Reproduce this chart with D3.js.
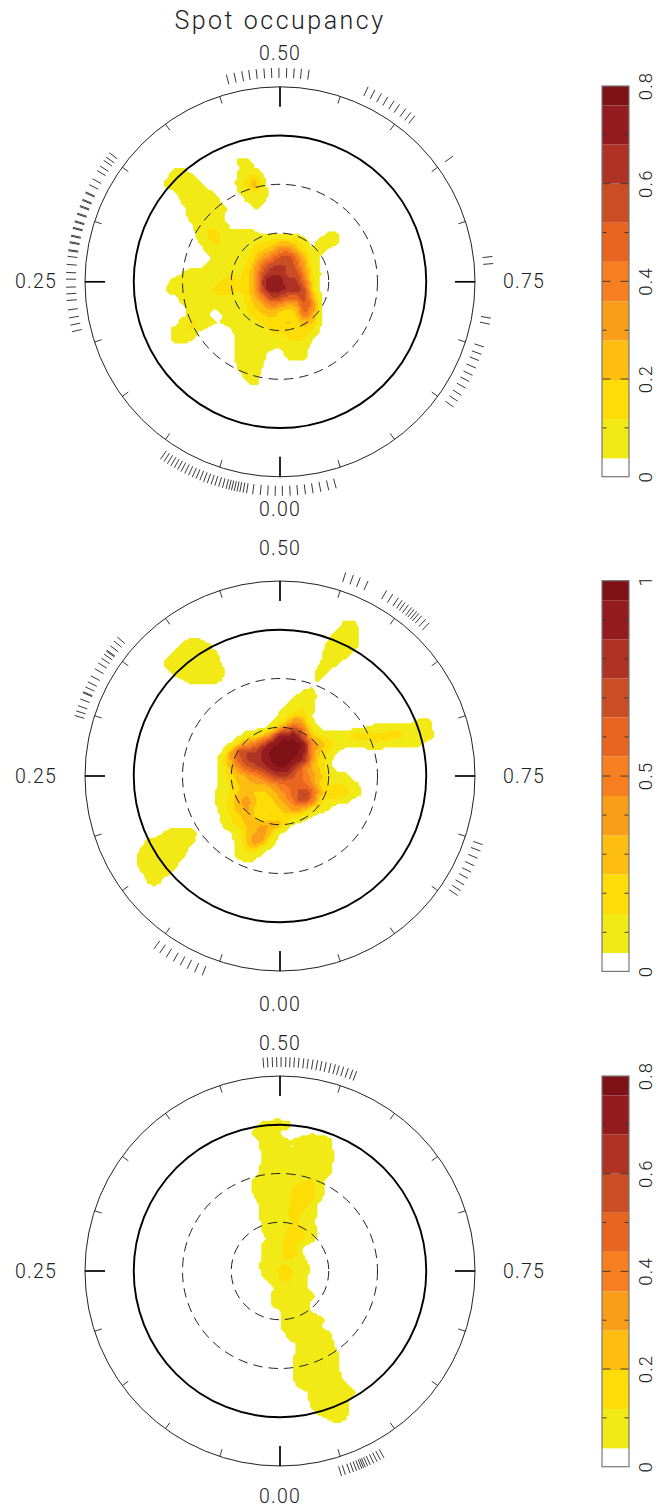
<!DOCTYPE html>
<html><head><meta charset="utf-8">
<script src="https://cdn.jsdelivr.net/npm/d3@7/dist/d3.min.js"></script>
<style>html,body{margin:0;padding:0;background:#fff}svg{display:block}
text{font-family:Roboto,"Open Sans",sans-serif;font-weight:300;fill:#222}</style></head>
<body><div id="chart"></div>
<script>
// ---- data ----
const chartTitle = "Spot occupancy";
const phaseLabels = ["0.00","0.25","0.50","0.75"];
const phaseMajor = [0,0.25,0.5,0.75];
const phaseMinor = [0.05,0.1,0.15,0.2,0.3,0.35,0.4,0.45,0.55,0.6,0.65,0.7,0.8,0.85,0.9,0.95];
const colatRings = [30,60,90,120];           // degrees
const bandColors = ["#F2EA17","#FDDD05","#FDBE10","#FA9E1A","#F77F20","#E9651F","#C94E24","#AE3325","#951C1E","#7E1216"];
const levels08 = [0.0375,0.118,0.198,0.279,0.359,0.44,0.52,0.6,0.68,0.76];
const levels10 = [0.047,0.147,0.248,0.348,0.449,0.55,0.65,0.75,0.85,0.95];
const edgeLevel = [0.026,0.033,0.026];
const barMax = [0.8,1,0.8];
const barLabels1 = [0,0.2,0.4,0.6,0.8], barLabels2 = [0,0.5,1], barLabels3 = [0,0.2,0.4,0.6,0.8];
const barTicks1 = [0.1,0.2,0.3,0.4,0.5,0.6,0.7], barTicks2 = [0.1,0.2,0.3,0.4,0.5,0.6,0.7,0.8,0.9], barTicks3 = [0.1,0.2,0.3,0.4,0.5,0.6,0.7];

// phases of the observations
const obsPhases1 = [0.353,0.349,0.346,0.341,0.337,0.33,0.325,0.319,0.3182,0.313,0.3122,0.308,0.3072,0.302,0.3012,0.296,0.2952,0.291,0.2902,0.285,0.2842,0.28,0.2792,0.274,0.2732,0.269,0.263,0.257,0.252,0.246,0.241,0.236,0.229,0.223,0.2175,0.2125,
 0.0943,0.0912,0.0882,0.0852,0.0823,0.0794,0.0765,0.0734,0.0703,0.0672,0.0642,0.0611,0.0581,0.0552,0.0522,0.0493,0.0463,0.0434,0.0406,0.0384,0.0364,0.0343,0.0322,0.0301,0.0276,0.025,0.0204,0.0147,0.0092,0.0036,0.9982,0.9924,0.9868,0.981,0.9753,0.9694,0.9634,0.9577,
 0.7992,0.805,0.81,0.816,0.822,0.8272,0.8328,0.839,0.8442,0.8495,0.7772,0.7817,0.7311,0.7364,0.65,
 0.5675,0.573,0.5786,0.584,0.5895,0.5944,0.6,0.6047,0.6086,
 0.4597,0.4655,0.4714,0.4766,0.4822,0.488,0.4936,0.4992,0.505,0.5106,0.516,0.5217];
const obsPhases2 = [0.5497,0.5557,0.5612,0.5675,
 0.583,0.5883,0.5933,0.5967,0.5994,0.6025,0.6056,0.6078,0.6103,0.6125,0.6153,0.6192,0.623,
 0.3625,0.3586,0.3542,0.35,0.3492,0.3464,0.3428,0.3386,0.3336,0.3275,0.3225,0.3183,0.3144,0.3136,0.3086,0.3033,0.2992,0.2956,
 0.802,0.807,0.8128,0.8189,0.8242,0.8294,0.835,0.84,0.8442,
 0.1003,0.095,0.0892,0.0831,0.0772,0.0714,0.0653,0.0592];
const obsPhases3 = [0.4873,0.4906,0.4942,0.4975,0.5008,0.5044,0.5075,0.5108,0.5142,0.5178,0.5211,0.5247,0.5281,0.5314,0.5347,0.5383,0.5417,0.5447,0.5481,0.5517,0.5553,0.5583,
 0.9536,0.9506,0.9469,0.9442,0.9417,0.9394,0.9375,0.9361,0.9347,0.9328,0.9306,0.9278,0.925,0.9222,0.9192];

// occupancy in percent on a 5-degree grid, segments: [row j, first column i, values...]
const occupancy1 = [
[15,-5,3,3],
[14,-13,2,3],[14,-5,3,8,3],
[13,-14,1,7,9,5],[13,-5,4,10,14,3],
[12,-14,4,8,9,9,6],[12,-5,6,15,22,5],
[11,-13,2,6,9,9,6,2],[11,-5,3,9,12,6,1],
[10,-12,4,8,10,9,6,1],[10,-4,4,8,4],
[9,-12,1,6,9,10,9,5],[9,-3,3],
[8,-11,5,9,9,7,3],
[7,-11,2,7,9,10,6,1],
[6,-10,6,12,14,9,5,6,6,4,1,2,2,3,2],[6,6,3,3],
[5,-10,3,9,13,10,8,9,10,9,12,14,18,18,14,7,1,6,10,5],
[4,-9,5,10,10,9,9,10,14,20,26,36,38,26,14,4,6,2],
[3,-9,1,6,9,9,9,11,20,32,42,52,56,42,24,9,2],
[2,-9,4,8,9,9,10,14,28,46,58,60,58,48,30,10,2],
[1,-12,3,7,8,8,9,10,11,11,16,32,56,66,66,58,56,36,14,3],
[0,-14,1,7,8,8,8,8,10,13,14,12,18,34,64,74,72,62,62,44,16,2],
[-1,-14,3,7,8,8,8,9,13,15,14,12,18,32,58,74,70,66,64,54,20,2],
[-2,-13,1,6,8,8,8,9,9,9,10,14,26,42,56,54,46,46,54,30,5],
[-3,-12,2,5,6,6,5,8,9,9,13,20,28,36,32,26,30,50,36,6],
[-4,-12,1,5,9,5,1,3,7,9,11,14,20,22,18,14,20,40,28,5],
[-5,-13,1,6,12,11,6,3,3,6,9,10,11,13,16,18,20,18,24,20,4],
[-6,-13,5,9,12,4,1,0,0,2,7,9,9,10,13,14,16,15,16,12,2],
[-7,-13,4,7,4,0,0,0,0,1,7,9,9,9,9,8,12,13,12,4],
[-8,-13,1,1],[-8,-5,6,9,9,8,5,3,8,9,6,1],
[-9,-5,6,9,8,4,0,1,5,8,5],
[-10,-5,5,9,8,3,0,0,1,1,1],
[-11,-5,3,8,6,1],
[-12,-4,4,5],
[-13,-4,1,2]];
const occupancy2 = [
[19,8,4,4],
[18,7,3,9,8,1],
[17,6,3,9,9,8,1],[17,-11,3,3],
[16,5,1,6,9,9,7,1],[16,-13,1,6,9,9,7,1],
[15,5,2,8,9,8,2],[15,-13,6,9,9,9,9,6],
[14,5,4,8,6,1],[14,-14,5,9,9,9,9,9,8,2],
[13,4,1,6,4.5],[13,-14,2,7,9,9,9,9,9,4],
[12,4,3,4],[12,-13,2,4.5,9,9,9,9,3],
[11,3,1,3],
[10,2,3,7,6],
[9,1,3,8,12,6],
[8,0,3,9,16,16,5],
[7,-1,2,10,22,36,24,5],[7,17,3,3.5,2],
[6,-2,3,12,34,52,60,42,12,3,0,0,0,0,2,5,7,8,9,9,9,9,7,2],
[5,-5,3.5,12,18,30,52,84,88,86,60,28,14,8,10,12,16,17,17,17,18,18,16,10,10,8,3],
[4,-7,1,6,26,40,50,70,88,96,98,97,85,46,30,20,13,8,8,10,12,13,10,7,7,7,6,2],
[3,-7,4.5,34,64,72,76,88,96,100,100,97,84,44,24,14,5,1],
[2,-8,1,14,36,60,74,78,88,96,100,98,90,80,40,20,8,1],
[1,-8,1,12,30,44,62,70,78,88,94,90,74,54,36,22,9,1],
[0,-8,2,10,22,30,38,46,58,70,76,74,62,54,40,26,12,8,6,1],
[-1,-8,2,9,18,26,32,34,36,44,54,58,56,56,44,24,14,14,13,7,2],
[-2,-8,3,9,16,26,30,24,24,30,40,52,64,74,58,30,22,24,18,10,4],
[-3,-8,4,10,20,32,38,26,20,24,34,44,60,70,50,22,12,10,7,2],
[-4,-8,2,8,20,30,36,24,16,18,26,34,40,36,22,10,4],
[-5,-8,1,6,16,24,28,24,16,20,20,20,18,12,3],
[-6,-7,4.5,12,20,26,30,34,32,26,8,2],
[-7,-7,1,4,12,26,36,38,22,6,1],[-7,-14,5,8,9,8,2],
[-8,-6,2,10,28,42,30,10,1],[-8,-17,1,6,8,9,9,9,7,1],
[-9,-6,2,8,18,20,8,2],[-9,-17,5,9,9,9,9,8,1],
[-10,-6,1,5,8,5,1],[-10,-18,1,6,9,9,9,9,5],
[-11,-4,2,1],[-11,-18,1,6,9,9,9,6],
[-12,-17,3,8,9,6,1],
[-13,-16,5,5],
[-14,-16,1,1]];
const occupancy3 = [
[18,-3,1,6,8,8,5],
[17,-3,5,8,7,3],[17,3,1,2,1],
[16,-3,1,5,8,8,3,4,8,9,8,5],
[15,-2,5,8,8,3.5,3.5,9,9,8,6],
[14,-2,5,9,9,9,9,9,9,9,7,2],
[13,-2,5,8,8,8,8,8,8,9,5],
[12,-3,1,6,9,9,9,9,9,9,8,4],
[11,-3,5,8,9,9,9,10,12,12,6],
[10,-3,5,8,9,9,10,14,15,14,6],
[9,-3,3,7,9,9,10,14,15,13,4],
[8,-3,1,5,9,9,11,14,14,9],
[7,-3,1,5.5,9,9,12,14,10,7],
[6,-2,5,9,9,11,12,9,4],
[5,-2,4,8,9,13,14,12,7],
[4,-2,2,6,9,14,15,11,5],
[3,-2,4.5,8,9,14,12,3],
[2,-2,4,8,10,14,12,2],
[1,-2,5,8,11,11,8,6],
[0,-2,5,9,13,14,9,6.5],
[-1,-2,2,7,12,13,9,5.5],
[-2,-1,2,7,8,8,5],
[-3,-1,3,8,9,9,8,3.5],
[-4,-1,3,7,8,8,6,1],
[-5,0,2.5,7,8,7,2],
[-6,0,1.5,7,9,9,9,4.5],
[-7,0,2,6,9,9,9,4,1],
[-8,1,4,8,9,9,9,5],
[-9,2,3.5,9,9,9,7,1],
[-10,2,3.5,8,9,9,9,3],
[-11,2,4,9,9,9,9,4.5],
[-12,2,4,8,9,9,9,4.5],
[-13,2,4.5,9,9,9,9,7],
[-14,2,3,8,9,9,9,9,5],
[-15,3,1,6,9,9,9,8,4],
[-16,4,5,9,9,9,5],
[-17,4,3,8,9,9,4.5],
[-18,5,2,4.5,8,4],
[-19,7,1]];

const panels = [
 {cy:281.8, barTop:86,  occupancy:occupancy1, levels:levels08, edge:edgeLevel[0], obs:obsPhases1, max:barMax[0], labels:barLabels1, ticks:barTicks1, majorEvery:0.2},
 {cy:776,   barTop:580.7,occupancy:occupancy2, levels:levels10, edge:edgeLevel[1], obs:obsPhases2, max:barMax[1], labels:barLabels2, ticks:barTicks2, majorEvery:0.5},
 {cy:1271,  barTop:1076,occupancy:occupancy3, levels:levels08, edge:edgeLevel[2], obs:obsPhases3, max:barMax[2], labels:barLabels3, ticks:barTicks3, majorEvery:0.2}
];

// ---- layout ----
const W=670,H=1508,cx=280,gridHalf=20,cellDeg=5,gridN=2*gridHalf+1;
const fineDeg=1.5, extent=gridHalf*cellDeg, fineN=Math.floor(2*extent/fineDeg);
const rScale=d3.scaleLinear().domain([0,120]).range([0,195]);
const angle=d3.scaleLinear().domain([0,1]).range([0,2*Math.PI]);
const svg=d3.select("#chart").append("svg").attr("width",W).attr("height",H);

svg.append("text").attr("x",cx).attr("y",28.5).attr("text-anchor","middle")
  .attr("font-size",25).style("letter-spacing","2.5px").text(chartTitle);

function polar(phase,r){const a=angle(phase);return [-r*Math.sin(a),r*Math.cos(a)];}
function catmull(p0,p1,p2,p3,t){return 0.5*(2*p1+(p2-p0)*t+(2*p0-5*p1+4*p2-p3)*t*t+(3*p1-p0-3*p2+p3)*t*t*t);}

panels.forEach(p=>{
  const g=svg.append("g").attr("transform",`translate(${cx},${p.cy})`);
  const values=new Float64Array(gridN*gridN);
  p.occupancy.forEach(seg=>{
    const [j,i0,...vals]=seg;
    vals.forEach((v,k)=>{values[(gridHalf-j)*gridN+(i0+k+gridHalf)]=v/100;});
  });
  const at=(c,r)=>values[Math.max(0,Math.min(gridN-1,r))*gridN+Math.max(0,Math.min(gridN-1,c))];
  // resample the read grid to the map's own cell size, which gives the stepped edges
  const fine=new Float64Array(fineN*fineN);
  for(let a=0;a<fineN;a++)for(let b=0;b<fineN;b++){
    const gx=(b+0.5)*fineDeg/cellDeg, gy=(a+0.5)*fineDeg/cellDeg;
    const c=Math.floor(gx),r=Math.floor(gy),tx=gx-c,ty=gy-r;
    const rows=[-1,0,1,2].map(dr=>catmull(at(c-1,r+dr),at(c,r+dr),at(c+1,r+dr),at(c+2,r+dr),tx));
    fine[a*fineN+b]=catmull(rows[0],rows[1],rows[2],rows[3],ty);
  }
  const xDeg=d3.scaleLinear().domain([0,fineN]).range([-extent,-extent+fineN*fineDeg]);
  const yDeg=d3.scaleLinear().domain([0,fineN]).range([extent,extent-fineN*fineDeg]);
  const proj=d3.geoTransform({point(x,y){this.stream.point(rScale(xDeg(x)),-rScale(yDeg(y)));}});
  const path=d3.geoPath(proj);
  const mapLevels=[p.edge,...p.levels.slice(1)];
  const contours=d3.contours().size([fineN,fineN]).smooth(false).thresholds(mapLevels)(fine);
  g.selectAll("path.band").data(contours).join("path").attr("class","band")
    .attr("d",path).attr("fill",(d,i)=>bandColors[i]).attr("stroke","none");

  // rings
  g.selectAll("circle").data(colatRings).join("circle")
    .attr("r",d=>rScale(d)).attr("fill","none")
    .attr("stroke",d=>d===90?"#000":"#222")
    .attr("stroke-width",d=>d===90?1.9:1)
    .attr("stroke-dasharray",d=>d<90?"9.5 6":null);

  // phase ticks
  const seg=(ph,r0,r1)=>{const a=polar(ph,r0),b=polar(ph,r1);return `M${a}L${b}`;};
  g.selectAll("path.minor").data(phaseMinor).join("path").attr("class","minor")
    .attr("d",d=>seg(d,rScale(120)-7.5,rScale(120))).attr("stroke","#222").attr("stroke-width",0.9);
  g.selectAll("path.major").data(phaseMajor).join("path").attr("class","major")
    .attr("d",d=>seg(d,rScale(120)-20,rScale(120))).attr("stroke","#000").attr("stroke-width",1.7);
  g.selectAll("path.obs").data(p.obs).join("path").attr("class","obs")
    .attr("d",d=>seg(d,rScale(120)+9,rScale(120)+19)).attr("stroke","#222").attr("stroke-width",0.9);

  // phase labels
  g.selectAll("text.ph").data(phaseMajor).join("text").attr("class","ph")
    .attr("x",d=>polar(d,d===0.25||d===0.75?244:228)[0])
    .attr("y",d=>Math.min(polar(d,d===0.25||d===0.75?244:228)[1]+6.5,H-4.7-p.cy))
    .attr("text-anchor","middle").attr("font-size",19.5).style("letter-spacing","1.2px")
    .text((d,i)=>phaseLabels[i]);

  // colour bar
  const barY=d3.scaleLinear().domain([0,p.max]).range([p.barTop+390.7,p.barTop]);
  const bar=svg.append("g");
  const edges=[...p.levels,p.max];
  bar.selectAll("rect.band").data(p.levels).join("rect").attr("class","band")
    .attr("x",602).attr("width",27).attr("y",(d,i)=>barY(edges[i+1])).attr("height",(d,i)=>barY(d)-barY(edges[i+1]))
    .attr("fill",(d,i)=>bandColors[i]);
  const isMajor=d=>Math.abs(d/p.majorEvery-Math.round(d/p.majorEvery))<1e-6;
  [[602,1],[629,-1]].forEach(([x0,dir])=>{
    bar.append("g").selectAll("line").data(p.ticks).join("line")
      .attr("x1",x0).attr("x2",d=>x0+dir*(isMajor(d)?8.5:4.5))
      .attr("y1",d=>barY(d)).attr("y2",d=>barY(d)).attr("stroke","#333").attr("stroke-width",0.9);
  });
  bar.append("rect").attr("x",602).attr("y",barY(p.max)).attr("width",27).attr("height",390.7)
    .attr("fill","none").attr("stroke","#777").attr("stroke-width",1.2);
  bar.selectAll("text").data(p.labels).join("text")
    .attr("text-anchor","middle").attr("font-size",18.5).style("letter-spacing","1.2px")
    .attr("transform",d=>`translate(652,${barY(d)}) rotate(-90)`).text(d=>d);
});
</script></body></html>
